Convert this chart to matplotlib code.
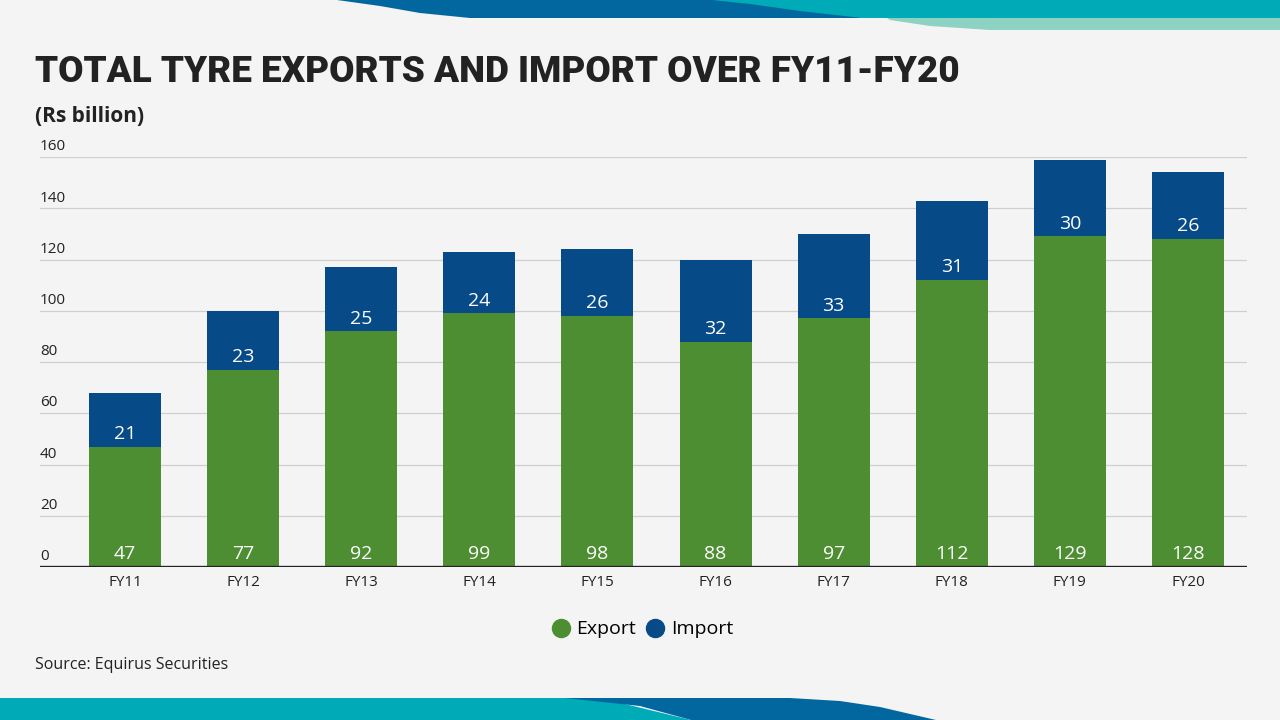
import matplotlib
matplotlib.use("Agg")
import matplotlib.pyplot as plt
from matplotlib.patches import Polygon
from matplotlib.lines import Line2D
import numpy as np

years = ["FY11", "FY12", "FY13", "FY14", "FY15", "FY16", "FY17", "FY18", "FY19", "FY20"]
export = [47, 77, 92, 99, 98, 88, 97, 112, 129, 128]
imports = [21, 23, 25, 24, 26, 32, 33, 31, 30, 26]
y_ticks = [0, 20, 40, 60, 80, 100, 120, 140, 160]

GREEN = "#4e8e33"
BLUE = "#064a88"
BG = "#f4f4f4"
FONT = ["Open Sans", "DejaVu Sans"]

fig = plt.figure(figsize=(12.8, 7.2), dpi=100, facecolor=BG)
W, H = 1280, 720


def px(points):
    # pixel coords (top-left origin) -> figure fraction
    return [(x / W, 1 - y / H) for x, y in points]


# decorative waves
top_blue = [(337, 0), (870, 0), (860, 18), (470, 18), (420, 13), (380, 6)]
top_light = [(860, 0), (1280, 0), (1280, 30), (990, 30), (930, 26), (890, 20)]
top_teal = [(712, 0), (1280, 0), (1280, 18), (862, 18), (800, 11), (750, 4)]
bot_teal = [(0, 698), (600, 698), (691, 720), (0, 720)]
bot_blue = [(565, 698), (790, 698), (840, 701), (880, 707), (936, 720), (691, 720),
            (640, 706)]
for pts, col in [(top_blue, "#02679f"), (top_light, "#8ed2c4"), (top_teal, "#00abb8"),
                 (bot_teal, "#00abb8"), (bot_blue, "#02679f")]:
    fig.patches.append(Polygon(px(pts), closed=True, transform=fig.transFigure,
                               facecolor=col, edgecolor="none", zorder=0))

ax = fig.add_axes([40 / W, 1 - 567 / H, (1247 - 40) / W, (567 - 157) / H])
ax.set_facecolor("none")
x = np.arange(len(years))
width = 0.61
ax.bar(x, export, width, color=GREEN, label="Export", zorder=3)
ax.bar(x, imports, width, bottom=export, color=BLUE, label="Import", zorder=3)

ax.set_xlim(-0.72, 9.5)
ax.set_ylim(0, 160)
for t in y_ticks[1:]:
    ax.axhline(t, color="#cfcfcf", lw=0.9, zorder=1)
ax.axhline(0, color="#222222", lw=2.4, zorder=4)
for t in y_ticks:
    ax.text(0.0, t + 4.0, str(t), transform=ax.get_yaxis_transform(), ha="left",
            va="center", fontsize=11, color="#222222", family=FONT)

for i in range(len(years)):
    ax.text(x[i], 5.0, str(export[i]), ha="center", va="center", color="white",
            fontsize=14, family=FONT, zorder=5)
    ax.text(x[i], export[i] + 4.9, str(imports[i]), ha="center", va="center",
            color="white", fontsize=14, family=FONT, zorder=5)

ax.set_xticks(x)
ax.set_xticklabels(years, fontsize=11, family=FONT, color="#222222")
ax.tick_params(axis="x", length=0, pad=6)
ax.set_yticks([])
for s in ax.spines.values():
    s.set_visible(False)

handles = [Line2D([], [], marker="o", ls="", color=GREEN, markersize=13),
           Line2D([], [], marker="o", ls="", color=BLUE, markersize=13)]
ax.legend(handles, ["Export", "Import"], loc="center", bbox_to_anchor=(0.498, -0.152),
          ncol=2, frameon=False, handletextpad=0.2, columnspacing=0.4, handlelength=1.2,
          prop={"family": FONT, "size": 14})

fig.text(35 / W, 1 - 72 / H, "TOTAL TYRE EXPORTS AND IMPORT OVER FY11-FY20",
         ha="left", va="center", fontsize=26.6, fontweight="heavy", color="#222222",
         family=["Roboto", "DejaVu Sans"])
fig.text(35 / W, 1 - 116 / H, "(Rs billion)", ha="left", va="center", fontsize=15,
         fontweight="bold", color="#222222", family=FONT)
fig.text(35 / W, 1 - 665 / H, "Source: Equirus Securities", ha="left", va="center",
         fontsize=11.5, color="#222222", family=FONT)

fig.savefig("out.png", dpi=100, facecolor=BG)
